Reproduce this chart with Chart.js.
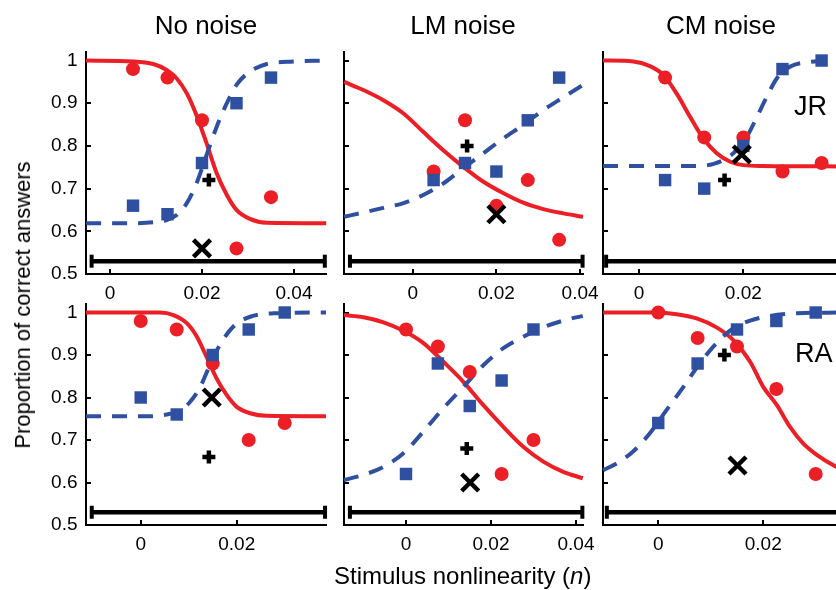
<!DOCTYPE html>
<html>
<head>
<meta charset="utf-8">
<script src="https://cdn.jsdelivr.net/npm/chart.js@4.4.1/dist/chart.umd.min.js"></script>
<style>
  html, body { margin: 0; padding: 0; background: #fff; overflow: hidden; }
  #fig { position: relative; width: 836px; height: 590px; overflow: hidden; background: #fff; }
  #fig canvas { position: absolute; left: 0; top: 0; }
  .t { position: absolute; font-family: 'Liberation Sans', Arial, Helvetica, sans-serif; color: #000;
       white-space: nowrap; line-height: 1; }
</style>
</head>
<body>
<div id="fig">
  <div class="t" style="left:206px; top:25px; font-size:26px; transform:translate(-50%,-50%);">No noise</div>
  <div class="t" style="left:463px; top:25px; font-size:26px; transform:translate(-50%,-50%);">LM noise</div>
  <div class="t" style="left:721px; top:25px; font-size:26px; transform:translate(-50%,-50%);">CM noise</div>
  <div class="t" style="left:794px; top:106px; font-size:27px; transform:translateY(-50%);">JR</div>
  <div class="t" style="left:795px; top:353px; font-size:27px; transform:translateY(-50%);">RA</div>
  <div class="t" style="left:23px; top:305px; font-size:22px; transform:translate(-50%,-50%) rotate(-90deg);">Proportion of correct answers</div>
  <div class="t" style="left:334px; top:576px; font-size:24px; transform:translateY(-50%);">Stimulus nonlinearity (<i>n</i>)</div>
</div>
<script>
// ---- axis ticks ----
const yTicks = [0.5, 0.6, 0.7, 0.8, 0.9, 1];
const yTickLabels = ['0.5', '0.6', '0.7', '0.8', '0.9', '1'];
const xTicks = [0, 0.02, 0.04];
const xTickLabels = ['0', '0.02', '0.04'];
const yMin = 0.5, yMax = 1.02;
const barLevel = 0.53;

// ---- stimulus levels (n) ----
const nTop = [0.005, 0.0125, 0.02, 0.0275, 0.035];
const nBottom = [0, 0.0075, 0.015, 0.0225, 0.03];

// ---- observer JR ----
const jrNoneRed = [0.98, 0.96, 0.86, 0.56, 0.68];
const jrNoneBlue = [0.66, 0.64, 0.76, 0.90, 0.96];
const jrNonePlus = [0.0215, 0.72];
const jrNoneCross = [0.020, 0.56];
const jrNoneRedFitX = [-0.0052, 0.0051, 0.0094, 0.0123, 0.0145, 0.0167, 0.0188, 0.0210, 0.0232, 0.0254, 0.0275, 0.0304, 0.0341, 0.0470];
const jrNoneRedFitY = [1.0, 0.998, 0.992, 0.978, 0.958, 0.923, 0.872, 0.806, 0.736, 0.685, 0.650, 0.629, 0.620, 0.619];
const jrNoneBlueFitX = [-0.0052, 0.0051, 0.0094, 0.0123, 0.0145, 0.0167, 0.0188, 0.0210, 0.0232, 0.0254, 0.0275, 0.0304, 0.0341, 0.0384, 0.0470];
const jrNoneBlueFitY = [0.619, 0.619, 0.621, 0.626, 0.638, 0.666, 0.712, 0.779, 0.845, 0.900, 0.943, 0.974, 0.992, 0.997, 1.0];
const jrNoneBar = [-0.0040, 0.0467];

const jrLmRed = [0.74, 0.86, 0.66, 0.72, 0.58];
const jrLmBlue = [0.72, 0.76, 0.74, 0.86, 0.96];
const jrLmPlus = [0.013, 0.80];
const jrLmCross = [0.020, 0.64];
const jrLmFitX = [-0.0164, -0.0118, -0.0070, -0.0022, 0.0025, 0.0073, 0.0121, 0.0169, 0.0217, 0.0264, 0.0312, 0.0360, 0.0407];
const jrLmRedFitY = [0.950, 0.931, 0.907, 0.876, 0.833, 0.790, 0.751, 0.716, 0.689, 0.667, 0.652, 0.642, 0.634];
const jrLmBlueFitY = [0.634, 0.644, 0.655, 0.666, 0.685, 0.712, 0.748, 0.783, 0.818, 0.849, 0.884, 0.914, 0.943];
const jrLmBar = [-0.0150, 0.0406];

const jrCmRed = [0.96, 0.82, 0.82, 0.74, 0.76];
const jrCmBlue = [0.72, 0.70, 0.80, 0.98, 1.00];
const jrCmPlus = [0.0164, 0.72];
const jrCmCross = [0.0197, 0.78];
const jrCmRedFitX = [-0.0069, -0.0011, 0.0021, 0.0047, 0.0072, 0.0098, 0.0123, 0.0149, 0.0175, 0.0200, 0.0238, 0.0391];
const jrCmRedFitY = [1.0, 0.998, 0.987, 0.966, 0.923, 0.868, 0.818, 0.783, 0.763, 0.755, 0.753, 0.752];
const jrCmBlueFitX = [-0.0069, 0.0117, 0.0143, 0.0168, 0.0187, 0.0207, 0.0226, 0.0245, 0.0264, 0.0290, 0.0322, 0.0391];
const jrCmBlueFitY = [0.753, 0.753, 0.758, 0.771, 0.790, 0.822, 0.868, 0.915, 0.958, 0.986, 0.996, 1.0];
const jrCmBar = [-0.0063, 0.0387];

// ---- observer RA ----
const raNoneRed = [0.98, 0.96, 0.88, 0.70, 0.74];
const raNoneBlue = [0.80, 0.76, 0.90, 0.96, 1.00];
const raNonePlus = [0.0142, 0.66];
const raNoneCross = [0.0148, 0.80];
const raNoneRedFitX = [-0.0114, 0.0040, 0.0068, 0.0096, 0.0117, 0.0137, 0.0158, 0.0179, 0.0200, 0.0228, 0.0262, 0.0386];
const raNoneRedFitY = [1.0, 1.0, 0.994, 0.975, 0.943, 0.896, 0.845, 0.806, 0.778, 0.763, 0.757, 0.756];
const raNoneBlueFitX = [-0.0114, 0.0019, 0.0054, 0.0082, 0.0103, 0.0124, 0.0144, 0.0165, 0.0193, 0.0228, 0.0276, 0.0386];
const raNoneBlueFitY = [0.756, 0.756, 0.760, 0.769, 0.790, 0.825, 0.876, 0.924, 0.967, 0.990, 0.998, 1.0];
const raNoneBar = [-0.0102, 0.0384];

const raLmRed = [0.96, 0.92, 0.86, 0.62, 0.70];
const raLmBlue = [0.62, 0.88, 0.78, 0.84, 0.96];
const raLmPlus = [0.0143, 0.68];
const raLmCross = [0.0151, 0.60];
const raLmFitX = [-0.0146, -0.0100, -0.0053, -0.0006, 0.0041, 0.0088, 0.0135, 0.0182, 0.0229, 0.0276, 0.0323, 0.0370, 0.0416];
const raLmRedFitY = [0.994, 0.989, 0.977, 0.957, 0.928, 0.884, 0.837, 0.782, 0.731, 0.684, 0.649, 0.625, 0.610];
const raLmBlueFitY = [0.606, 0.618, 0.637, 0.669, 0.720, 0.775, 0.825, 0.876, 0.916, 0.943, 0.965, 0.981, 0.992];
const raLmBar = [-0.0132, 0.0415];

const raCmRed = [1.00, 0.94, 0.92, 0.82, 0.62];
const raCmBlue = [0.74, 0.88, 0.96, 0.98, 1.00];
const raCmPlus = [0.0126, 0.90];
const raCmCross = [0.0151, 0.64];
const raCmRedFitX = [-0.0105, -0.0003, 0.0035, 0.0073, 0.0111, 0.0143, 0.0175, 0.0200, 0.0226, 0.0251, 0.0276, 0.0302, 0.0339, 0.0352];
const raCmRedFitY = [1.0, 1.0, 0.996, 0.986, 0.965, 0.935, 0.884, 0.825, 0.782, 0.731, 0.692, 0.665, 0.637, 0.630];
const raCmBlueFitX = [-0.0105, -0.0079, -0.0048, -0.0016, 0.0016, 0.0048, 0.0079, 0.0111, 0.0143, 0.0175, 0.0213, 0.0264, 0.0352];
const raCmBlueFitY = [0.629, 0.645, 0.673, 0.716, 0.771, 0.825, 0.880, 0.928, 0.963, 0.981, 0.992, 0.998, 1.0];
const raCmBar = [-0.0098, 0.0350];

// ---- panel axis limits (x) ----
const xLimits = {
  jrNone: [-0.00522, 0.04696], jrLm: [-0.01642, 0.0407], jrCm: [-0.0069, 0.0391],
  raNone: [-0.0114, 0.0386],   raLm: [-0.01459, 0.04165], raCm: [-0.01053, 0.0352]
};

// ---- styling ----
const RED = '#ec1f26';
const BLUE = '#2f50a1';
const FONT = "'Liberation Sans', Arial, Helvetica, sans-serif";
const CANVAS_W = 860, CANVAS_H = 590;
const Y_AXIS_W = 40, X_AXIS_H = 40;

// plot-area rectangles of the six panels (page pixels)
const rowTop = { t: 52, b: 274 }, rowBottom = { t: 304, b: 525 };
const colLeft = { l: 86, r: 326 }, colMid = { l: 344, r: 583 }, colRight = { l: 603, r: 843 };

const pts = (xs, ys) => xs.map((x, i) => ({ x, y: ys[i] }));

const panels = [
  { key: 'jrNone', row: rowTop, col: colLeft, yLabels: true, n: nTop, red: jrNoneRed, blue: jrNoneBlue,
    plus: jrNonePlus, cross: jrNoneCross, redFit: pts(jrNoneRedFitX, jrNoneRedFitY),
    blueFit: pts(jrNoneBlueFitX, jrNoneBlueFitY), bar: jrNoneBar },
  { key: 'jrLm', row: rowTop, col: colMid, yLabels: false, n: nTop, red: jrLmRed, blue: jrLmBlue,
    plus: jrLmPlus, cross: jrLmCross, redFit: pts(jrLmFitX, jrLmRedFitY),
    blueFit: pts(jrLmFitX, jrLmBlueFitY), bar: jrLmBar },
  { key: 'jrCm', row: rowTop, col: colRight, yLabels: false, n: nTop, red: jrCmRed, blue: jrCmBlue,
    plus: jrCmPlus, cross: jrCmCross, redFit: pts(jrCmRedFitX, jrCmRedFitY),
    blueFit: pts(jrCmBlueFitX, jrCmBlueFitY), bar: jrCmBar },
  { key: 'raNone', row: rowBottom, col: colLeft, yLabels: true, n: nBottom, red: raNoneRed, blue: raNoneBlue,
    plus: raNonePlus, cross: raNoneCross, redFit: pts(raNoneRedFitX, raNoneRedFitY),
    blueFit: pts(raNoneBlueFitX, raNoneBlueFitY), bar: raNoneBar },
  { key: 'raLm', row: rowBottom, col: colMid, yLabels: false, n: nBottom, red: raLmRed, blue: raLmBlue,
    plus: raLmPlus, cross: raLmCross, redFit: pts(raLmFitX, raLmRedFitY),
    blueFit: pts(raLmFitX, raLmBlueFitY), bar: raLmBar },
  { key: 'raCm', row: rowBottom, col: colRight, yLabels: false, n: nBottom, red: raCmRed, blue: raCmBlue,
    plus: raCmPlus, cross: raCmCross, redFit: pts(raCmRedFitX, raCmRedFitY),
    blueFit: pts(raCmBlueFitX, raCmBlueFitY), bar: raCmBar }
];

Chart.defaults.font.family = FONT;
Chart.defaults.color = '#000';

const fig = document.getElementById('fig');

function axisGrid() {
  return { drawOnChartArea: false, drawTicks: true, tickLength: -5, color: '#000', lineWidth: 2 };
}

panels.forEach(p => {
  const canvas = document.createElement('canvas');
  canvas.width = CANVAS_W;
  canvas.height = CANVAS_H;
  canvas.style.width = CANVAS_W + 'px';
  canvas.style.height = CANVAS_H + 'px';
  fig.insertBefore(canvas, fig.firstChild);

  const [xmin, xmax] = xLimits[p.key];

  new Chart(canvas, {
    type: 'line',
    data: {
      datasets: [
        { label: 'red fit', data: p.redFit, borderColor: RED, borderWidth: 4, pointRadius: 0,
          cubicInterpolationMode: 'monotone', fill: false, order: 6, clip: false },
        { label: 'blue fit', data: p.blueFit, borderColor: BLUE, borderWidth: 4, borderDash: [15, 11],
          pointRadius: 0, cubicInterpolationMode: 'monotone', fill: false, order: 5, clip: false },
        { label: 'red', data: pts(p.n, p.red), showLine: false, pointStyle: 'circle', pointRadius: 7,
          pointBackgroundColor: RED, pointBorderWidth: 0, order: 4, clip: false },
        { label: 'blue', data: pts(p.n, p.blue), showLine: false, pointStyle: 'rect', pointRadius: 8.8,
          pointBackgroundColor: BLUE, pointBorderWidth: 0, order: 3, clip: false },
        { label: 'plus', data: [{ x: p.plus[0], y: p.plus[1] }], showLine: false, pointStyle: 'cross',
          pointRadius: 6.5, pointBorderColor: '#000', pointBorderWidth: 4.5, order: 2, clip: false },
        { label: 'cross', data: [{ x: p.cross[0], y: p.cross[1] }], showLine: false, pointStyle: 'crossRot',
          pointRadius: 12, pointBorderColor: '#000', pointBorderWidth: 4.5, order: 1, clip: false },
        { label: 'range', data: [{ x: p.bar[0], y: barLevel }, { x: p.bar[1], y: barLevel }],
          borderColor: '#000', borderWidth: 4.5, pointStyle: 'line', pointRotation: 90, pointRadius: 6.5,
          pointBorderColor: '#000', pointBorderWidth: 4, order: 0, clip: false }
      ]
    },
    options: {
      responsive: false,
      animation: false,
      devicePixelRatio: 1,
      events: [],
      layout: {
        padding: {
          left: p.col.l - Y_AXIS_W,
          right: CANVAS_W - p.col.r,
          top: p.row.t,
          bottom: CANVAS_H - p.row.b - X_AXIS_H
        }
      },
      plugins: { legend: { display: false }, tooltip: { enabled: false }, title: { display: false } },
      scales: {
        x: {
          type: 'linear', min: xmin, max: xmax,
          grid: axisGrid(),
          border: { display: true, color: '#000', width: 2 },
          afterFit: s => { s.height = X_AXIS_H; },
          afterBuildTicks: s => { s.ticks = xTicks.filter(v => v >= xmin && v <= xmax).map(v => ({ value: v })); },
          ticks: {
            autoSkip: false, maxRotation: 0, padding: 13.6,
            font: { size: 19, family: FONT }, color: '#000',
            callback: v => { const i = xTicks.indexOf(v); return i >= 0 ? xTickLabels[i] : ''; }
          }
        },
        y: {
          type: 'linear', min: yMin, max: yMax,
          grid: axisGrid(),
          border: { display: true, color: '#000', width: 2 },
          afterFit: s => { s.width = Y_AXIS_W; },
          afterBuildTicks: s => { s.ticks = yTicks.map(v => ({ value: v })); },
          ticks: {
            autoSkip: false, padding: 13.5,
            font: { size: 19, family: FONT }, color: '#000',
            callback: v => {
              if (!p.yLabels) return '';
              const i = yTicks.findIndex(t => Math.abs(t - v) < 1e-9);
              return i >= 0 ? yTickLabels[i] : '';
            }
          }
        }
      }
    }
  });
});
</script>
</body>
</html>
